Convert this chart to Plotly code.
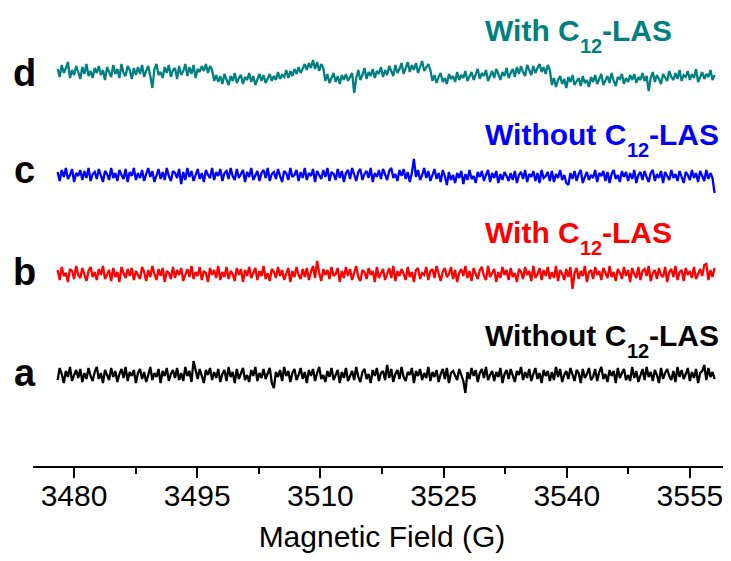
import numpy as np
import plotly.graph_objects as go

# ---------------- data ----------------
field_start = 3478.0   # G, first point of the sweep
field_end = 3558.0     # G, last point of the sweep

trace_labels = ["a", "b", "c", "d"]
trace_conditions = ["Without C", "With C", "Without C", "With C"]
trace_colors = ["#000000", "#FF0000", "#0000FF", "#008080"]
trace_offsets = [0, 101, 200, 303]

signal_a = [
    -5, 7, 1, -8, 4, -2, 8, -6, 0, 5, -3, 6, -7, 2, -4, 7, -1, -6, 3, 8,
    -4, 2, -8, 5, 0, -5, 7, -2, 4, -7, 1, 6, -3, 8, -6, 3, -1, 5, -8, 2,
    6, -4, 3, -7, 0, 8, -5, 2, -2, 6, -8, 4, -1, 7, -6, 1, 5, -3, 7, -5,
    2, -6, 8, -1, 4, -7, 14, 3, -4, 6, -2, -8, 5, 0, 7, -5, 3, -3, 6, -7,
    1, 5, -6, 8, -2, 3, -8, 6, -4, 2, 7, -5, 0, -7, 5, -1, 8, -6, 2, -3,
    6, -4, 1, 7, -8, -13, 3, -2, 5, -6, 8, -1, 4, -7, 2, 6, -5, 0, 7, -4,
    3, -8, 5, -1, 6, -6, 2, 8, -4, 0, -7, 4, -2, 7, -5, 1, 5, -8, 3, -3,
    7, -6, 0, 4, -5, 8, -2, -7, 3, 6, -4, 1, -8, 5, -1, 7, -6, 2, 4, -5,
    10, -3, 6, -7, 1, 5, -4, 8, -2, -6, 3, 0, 7, -8, 4, -1, 6, -5, 2, -3,
    8, -6, 3, -2, 5, -7, 1, 6, -4, 7, -8, 2, 4, -1, -5, 6, 0, -6, -18, 3,
    -4, 7, -1, 5, -7, 2, 6, -3, 8, -5, 0, 4, -6, 3, -2, 7, -8, 1, 5, -4,
    6, -2, -7, 4, 0, 8, -5, 3, -3, 6, -6, 1, 7, -4, 2, -8, 5, -1, 4, -6,
    3, -5, 8, -2, 6, -7, 0, 4, -4, 7, -1, -6, 5, 2, -8, 6, -3, 1, 7, -5,
    -2, 6, -6, 3, 8, -4, 1, -7, 5, -1, 4, -8, 7, -3, 2, 6, -5, 0, -6, 8,
    -3, 4, -7, 1, 6, -5, 8, -2, 3, -6, 5, 0, -8, 7, -4, 2, 6, -1, -5, 4,
    -7, 8, -2, 5, -4, 1, 7, -6, 3, -3, 6, -8, 2, 4, 10, -5, 7, -2, 3, -4,
]

signal_b = [
    4, -6, 7, -2, 1, -8, 5, 3, -5, 8, -1, -4, 6, 0, -7, 3, 7, -3, 2, -6,
    5, -1, 8, -5, 0, 4, -7, 6, -3, 2, -8, 7, 1, -4, 5, -2, 6, -6, 3, -1,
    -5, 7, 2, -7, 4, -3, 8, 0, -6, 5, -2, 6, -8, 3, 1, -5, 7, -4, 4, -1,
    6, -7, 0, 5, -3, 8, -5, 2, -2, 7, -6, 3, 1, -8, 6, -1, 4, -4, 8, -6,
    2, -3, 7, -5, 3, 0, -7, 6, -1, 5, -8, 4, -2, 7, -4, 1, 6, -6, 3, -2,
    8, -5, 1, -7, 5, 2, -4, 7, -2, 4, -6, 0, 6, -8, 3, -3, 7, -1, -5, 5,
    -3, 6, -6, 2, 8, -4, 13, 1, -7, 5, -1, 4, -5, 7, -2, 0, 6, -8, 3, -4,
    7, -2, 5, -6, 1, 8, -3, -7, 4, 2, -5, 6, -1, 3, -8, 7, -4, 0, 5, -6,
    1, 6, -4, 8, -7, 3, -2, 5, 0, -6, 7, -3, 2, -8, 4, 6, -5, 1, -1, 7,
    -6, 3, 5, -4, 8, -1, -7, 2, 6, -3, 0, 7, -5, 4, -8, 1, 5, -2, 8, -4,
    3, -7, 6, 0, -5, 4, 7, -2, -6, 8, -3, 1, 5, -8, 2, -4, 7, -1, 4, -6,
    6, -3, 1, -8, 5, 2, -5, 7, -1, 3, -7, 8, -4, 0, 6, -6, 4, -2, 7, -5,
    2, -4, 8, -7, 4, 0, -6, 5, -3, 7, -15, 1, 6, -5, 3, -2, 8, -8, 2, 4,
    -5, 7, -1, 3, -6, 6, 0, -4, 8, -3, 2, -7, 5, 1, -5, 7, -2, 4, -8, 6,
    0, -4, 7, -6, 3, 5, -2, 8, -7, 1, 4, -5, 6, -1, -3, 7, -8, 2, 5, -3,
    8, -6, 2, 4, -7, 6, -1, 3, -4, 7, -5, 1, 5, -2, 9, 10, -6, 4, -3, 6,
]

signal_c = [
    3, -6, 5, -2, 7, -4, 0, 6, -7, 2, -1, 5, -5, 4, -3, 7, -6, 1, 3, -4,
    6, -2, -7, 4, 1, -5, 7, -3, 2, -6, 5, 0, -4, 6, -7, 3, -1, 7, -5, 2,
    -3, 5, -6, 1, 7, -2, 4, -7, 0, 6, -4, 3, -5, 7, -1, -6, 4, 2, -3, 6,
    -9, 3, -5, 7, -2, 4, -6, 1, 6, -4, 2, -7, 5, 0, -3, 7, -5, 3, -1, 6,
    -6, 2, 4, -4, 7, -1, -5, 6, -3, 1, 5, -7, 3, -2, 7, -5, 0, 4, -6, 2,
    5, -3, 7, -6, 1, 3, -4, 6, -1, -7, 4, 2, -5, 7, -2, 0, 5, -6, 3, -3,
    7, -5, 2, -1, 6, -7, 4, 0, -4, 5, -2, 7, -6, 3, 1, -5, 6, -3, 4, -7,
    2, 5, -4, 7, -1, -6, 3, 6, -5, 1, 4, -3, 7, -7, 2, -2, 5, -4, 6, 0,
    -5, 4, 7, -3, 1, -6, 5, -1, 6, -4, 3, -7, 2, 16, -2, 5, -5, 0, 7, -3,
    4, -6, 1, 6, -4, 2, -7, 5, -1, -10, 3, -5, 0, -8, 2, -3, 4, -9, 1, -5,
    5, -4, -1, -8, 3, -2, 4, -6, 0, 5, -7, 2, -3, 4, -8, 1, -5, 3, -1, -6,
    2, -5, 4, -8, 0, 3, -4, 5, -7, 1, -2, 4, -6, 2, -8, 5, -3, -1, 3, -6,
    4, -7, 1, -3, 5, -5, 0, -8, -10, 2, -4, 4, -6, 1, 5, -8, -2, 3, -5, 0,
    -3, 5, -7, 2, -1, 4, -6, 3, -8, 1, 5, -4, 0, -7, 4, -2, 3, -6, 2, -4,
    5, -8, 0, 3, -5, 4, -2, -7, 2, 5, -6, 1, -3, 4, -8, 3, -1, -5, 5, -3,
    1, -6, 4, -2, -8, 3, 0, -5, 5, -3, 2, -7, 4, -1, -6, 5, -4, 2, -3, -18,
]

signal_d = [
    3, -5, 7, -1, 4, 10, -6, 2, -3, 6, 0, -7, 5, -2, 8, -4, 1, -6, 4, -1,
    6, -3, 2, -8, 5, 0, -5, 7, -2, 3, -6, 8, -1, -4, 6, 2, -7, 4, -3, 5,
    -2, 7, -5, 1, 6, -4, -16, 3, 8, -3, 0, -6, 5, -1, 7, -5, 2, 4, -7, 6,
    -3, 1, 8, -4, 5, -2, 7, -6, 3, 0, 6, 1, 8, -1, 6, 2, -9, -3, -10, -4,
    -12, -2, -8, -13, -4, -9, -1, -11, -6, -3, -12, -5, -8, -1, -10, -4, -13, -7, -2, -9,
    -3, -11, -6, -2, -9, -4, -8, 0, -7, -3, -5, 2, -6, 1, -4, 3, -2, 5, -1, 4,
    8, 2, 9, 4, 12, 3, 10, 1, 8, 4, -9, -2, -11, -6, -1, -10, -4, -12, -3, -8,
    -2, -9, -5, -1, -21, -6, 2, -8, -3, 4, -7, 0, -4, 3, -6, 1, -2, 5, -5, 2,
    -3, 6, 1, -4, 7, -1, 3, 9, -2, 5, 10, 0, 7, 2, 9, -1, 6, 11, 1, 5,
    8, 2, -9, -3, -11, -5, -1, -10, -6, -12, -2, -7, -4, -10, 0, -8, -3, -6, 1, -9,
    -5, 0, -8, -2, 3, -7, -1, -4, 2, -9, -3, 1, -6, 3, -2, -8, 0, -4, 4, -6,
    -1, 3, -5, 5, -2, 6, 0, -4, 7, 1, -3, 6, -1, 4, 8, 0, 5, -2, 7, 2,
    -13, -6, -15, -8, -4, -12, -7, -16, -5, -10, -3, -13, -9, -6, -14, -4, -11, -8, -15, -5,
    -10, -3, -12, -6, -2, -13, -8, -4, -11, -1, -9, -14, -5, -7, -2, -12, -6, -10, -3, -8,
    -2, -11, -5, -8, -1, -9, -4, -19, -6, 0, -10, -3, -7, -12, -2, -6, -9, 1, -5, -8,
    -1, -7, 2, -9, -3, -5, 1, -8, -2, -6, 3, -10, -4, 0, -7, -2, -5, 2, -8, -3,
]

trace_signals = [signal_a, signal_b, signal_c, signal_d]

tick_values = [3480, 3495, 3510, 3525, 3540, 3555]
minor_tick_values = [3487.5, 3502.5, 3517.5, 3532.5, 3547.5]
x_title = "Magnetic Field (G)"

# ---------------- layout helpers ----------------
FONT = "Liberation Sans, Arial, sans-serif"
LABEL_SIZE = 30
SUB_SIZE = 20
letter_y = [2, 103, 205, 302.5]       # vertical centre of the a/b/c/d letters
label_y = [40, 143, 241, 345]         # vertical centre of the condition labels
letter_x = -0.0117                    # paper x of the letters
label_x = 0.645                       # paper x where the condition labels start

# Arial-Bold advance widths (per 1000 em) for the label glyphs
ADV = {"W": 944, "i": 278, "t": 333, "h": 611, " ": 278, "C": 722, "o": 611,
       "u": 611, "1": 556, "2": 556, "-": 333, "L": 611, "A": 722, "S": 667}


def text_width(s, size):
    return sum(ADV[ch] for ch in s) * size / 1000.0


fig = go.Figure()
for sig, col, off in zip(trace_signals, trace_colors, trace_offsets):
    field = np.linspace(field_start, field_end, len(sig))
    fig.add_trace(go.Scatter(
        x=field, y=np.asarray(sig, dtype=float) + off, mode="lines",
        line=dict(color=col, width=2.3), showlegend=False, hoverinfo="skip"))

annotations = []
for lab, cond, col, ly, ty in zip(trace_labels, trace_conditions, trace_colors,
                                  letter_y, label_y):
    annotations.append(dict(
        x=letter_x, y=ly, xref="paper", yref="y", text="<b>%s</b>" % lab,
        showarrow=False, xanchor="center", yanchor="middle",
        font=dict(family=FONT, size=38, color="black")))
    w1 = text_width(cond, LABEL_SIZE)
    w2 = text_width("12", SUB_SIZE)
    annotations.append(dict(
        x=label_x, y=ty, xref="paper", yref="y", text="<b>%s</b>" % cond,
        showarrow=False, xanchor="left", yanchor="middle",
        font=dict(family=FONT, size=LABEL_SIZE, color=col)))
    annotations.append(dict(
        x=label_x, y=ty - 16, xref="paper", yref="y", text="<b>12</b>",
        xshift=w1, showarrow=False, xanchor="left", yanchor="middle",
        font=dict(family=FONT, size=SUB_SIZE, color=col)))
    annotations.append(dict(
        x=label_x, y=ty, xref="paper", yref="y", text="<b>-LAS</b>",
        xshift=w1 + w2, showarrow=False, xanchor="left", yanchor="middle",
        font=dict(family=FONT, size=LABEL_SIZE, color=col)))

fig.update_layout(
    width=723, height=545,
    margin=dict(l=25, r=0, t=0, b=87, autoexpand=False),
    paper_bgcolor="white", plot_bgcolor="white",
    annotations=annotations,
    xaxis=dict(
        range=[3475, 3560], tickmode="array", tickvals=tick_values,
        ticktext=[str(v) for v in tick_values],
        showline=True, linecolor="black", linewidth=1.5,
        ticks="outside", ticklen=10, tickwidth=1.5, tickcolor="black",
        ticklabelstandoff=-8,
        minor=dict(tickmode="array", tickvals=minor_tick_values, ticks="outside",
                   ticklen=6, tickwidth=1.5, tickcolor="black"),
        showgrid=False, zeroline=False, automargin=False,
        tickfont=dict(family=FONT, size=30, color="black"),
        title=dict(text=x_title, font=dict(family=FONT, size=30, color="black"),
                   standoff=18),
    ),
    yaxis=dict(range=[-91, 367], visible=False, fixedrange=True),
)

fig.write_html("out.html")
